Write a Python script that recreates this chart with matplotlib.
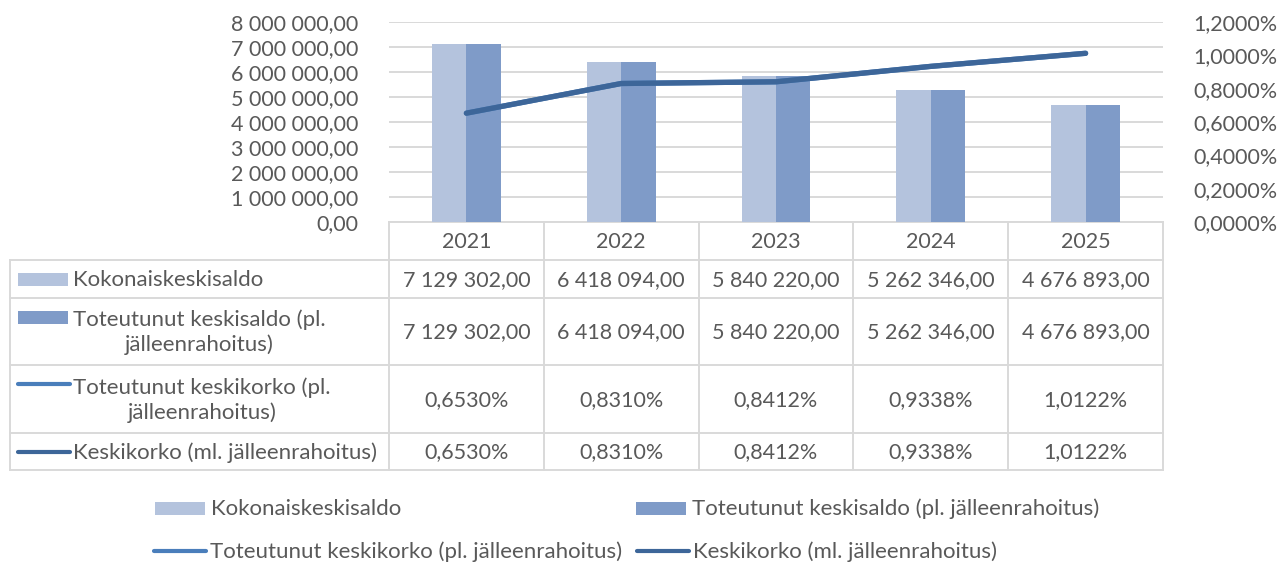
import matplotlib.pyplot as plt
from matplotlib.patches import Rectangle
import numpy as np

plt.rcParams['font.family'] = ['Lato', 'DejaVu Sans']

# === data ===
years = ["2021", "2022", "2023", "2024", "2025"]
series_names = [
    "Kokonaiskeskisaldo",
    "Toteutunut keskisaldo (pl. jälleenrahoitus)",
    "Toteutunut keskikorko (pl. jälleenrahoitus)",
    "Keskikorko (ml. jälleenrahoitus)",
]
table_names = [
    "Kokonaiskeskisaldo",
    "Toteutunut keskisaldo (pl.\njälleenrahoitus)",
    "Toteutunut keskikorko (pl.\njälleenrahoitus)",
    "Keskikorko (ml. jälleenrahoitus)",
]
kokonais_saldo = [7129302.00, 6418094.00, 5840220.00, 5262346.00, 4676893.00]
toteutunut_saldo = [7129302.00, 6418094.00, 5840220.00, 5262346.00, 4676893.00]
toteutunut_korko = [0.6530, 0.8310, 0.8412, 0.9338, 1.0122]  # %
keskikorko = [0.6530, 0.8310, 0.8412, 0.9338, 1.0122]  # %

# === styles ===
c_light = "#B4C3DD"
c_dark = "#7F9BC8"
c_line1 = "#4A7EBB"
c_line2 = "#3D6699"
c_text = "#595959"
c_grid = "#D9D9D9"
fs = 15.5     # numbers
fs_lab = 16   # series names

W, H = 1283, 566


def fmt_num(v):
    return f"{v:,.2f}".replace(",", " ").replace(".", ",")


def fmt_pct(v):
    return f"{v:.4f}%".replace(".", ",")


fig = plt.figure(figsize=(W / 100, H / 100), dpi=100)

# overlay in pixel coordinates for the data table + legend
ov = fig.add_axes([0, 0, 1, 1], zorder=0)
ov.set_xlim(0, W)
ov.set_ylim(H, 0)
ov.axis("off")

# plot area
x0, x1, ytop, ybot = 389, 1163, 22, 222
ax = fig.add_axes([x0 / W, 1 - ybot / H, (x1 - x0) / W, (ybot - ytop) / H], zorder=2)
ax.patch.set_alpha(0)
x = np.arange(len(years))
bw = 0.222
ax.bar(x - bw / 2, kokonais_saldo, bw, color=c_light, zorder=2)
ax.bar(x + bw / 2, toteutunut_saldo, bw, color=c_dark, zorder=2)
ax.set_xlim(-0.5, len(years) - 0.5)
ax.set_ylim(0, 8000000)
ax.set_yticks(np.arange(0, 8000001, 1000000))
ax.set_yticklabels([fmt_num(v) for v in np.arange(0, 8000001, 1000000)])
ax.set_xticks([])
ax.grid(axis="y", color=c_grid, linewidth=1.4, zorder=0)
ax.set_axisbelow(True)
for s in ax.spines.values():
    s.set_visible(False)
ax.tick_params(axis="y", length=0, pad=22, labelsize=fs, labelcolor=c_text)

ax2 = ax.twinx()
ax2.plot(x, toteutunut_korko, color=c_line1, linewidth=3.8, solid_capstyle="round")
ax2.plot(x, keskikorko, color=c_line2, linewidth=3.8, solid_capstyle="round")
ax2.set_ylim(0, 1.2)
ax2.set_yticks(np.arange(0, 1.21, 0.2))
ax2.set_yticklabels([fmt_pct(v) for v in np.arange(0, 1.21, 0.2)])
for s in ax2.spines.values():
    s.set_visible(False)
ax2.tick_params(axis="y", length=0, pad=22, labelsize=fs, labelcolor=c_text)

# === data table ===
col_edges = np.linspace(x0, x1, len(years) + 1)
row_edges = [ybot, 260, 298, 365, 433, 470]
xl = 10
lw = 1.4
ov.plot([x0, x1], [ybot, ybot], color=c_grid, lw=lw)
for yy in row_edges[1:]:
    ov.plot([xl, x1], [yy, yy], color=c_grid, lw=lw)
ov.plot([xl, xl], [row_edges[1], row_edges[-1]], color=c_grid, lw=lw)
for xx in col_edges:
    ov.plot([xx, xx], [ybot, row_edges[-1]], color=c_grid, lw=lw)

cx = (col_edges[:-1] + col_edges[1:]) / 2
for i, yr in enumerate(years):
    ov.text(cx[i], (row_edges[0] + row_edges[1]) / 2 + 1, yr, ha="center", va="center",
            fontsize=fs, color=c_text)

rows = [
    [fmt_num(v) for v in kokonais_saldo],
    [fmt_num(v) for v in toteutunut_saldo],
    [fmt_pct(v) for v in toteutunut_korko],
    [fmt_pct(v) for v in keskikorko],
]
key_kind = ["bar", "bar", "line", "line"]
key_col = [c_light, c_dark, c_line1, c_line2]
for r in range(4):
    ya, yb = row_edges[r + 1], row_edges[r + 2]
    yc = (ya + yb) / 2
    for i, val in enumerate(rows[r]):
        ov.text(cx[i], yc + 1, val, ha="center", va="center", fontsize=fs, color=c_text)
    two = "\n" in table_names[r]
    ky = ya + 19 if two else yc
    if key_kind[r] == "bar":
        ov.add_patch(Rectangle((18, ky - 6.5), 50, 13, color=key_col[r], lw=0))
    else:
        ov.plot([18, 70], [ky, ky], color=key_col[r], lw=3, solid_capstyle="round")
    ov.text(73, yc + 1, table_names[r], ha="left", va="center", fontsize=fs_lab,
            color=c_text, multialignment="center", linespacing=1.25)

# === legend ===
leg = [(155, 508), (636, 508), (154, 551), (637, 551)]
for k, (lx, ly) in enumerate(leg):
    if key_kind[k] == "bar":
        ov.add_patch(Rectangle((lx, ly - 6.5), 50, 13, color=key_col[k], lw=0))
    else:
        ov.plot([lx, lx + 52], [ly, ly], color=key_col[k], lw=3, solid_capstyle="round")
    ov.text(lx + 56, ly + 1, series_names[k], ha="left", va="center", fontsize=fs_lab, color=c_text)

fig.savefig("out.png", dpi=100)
